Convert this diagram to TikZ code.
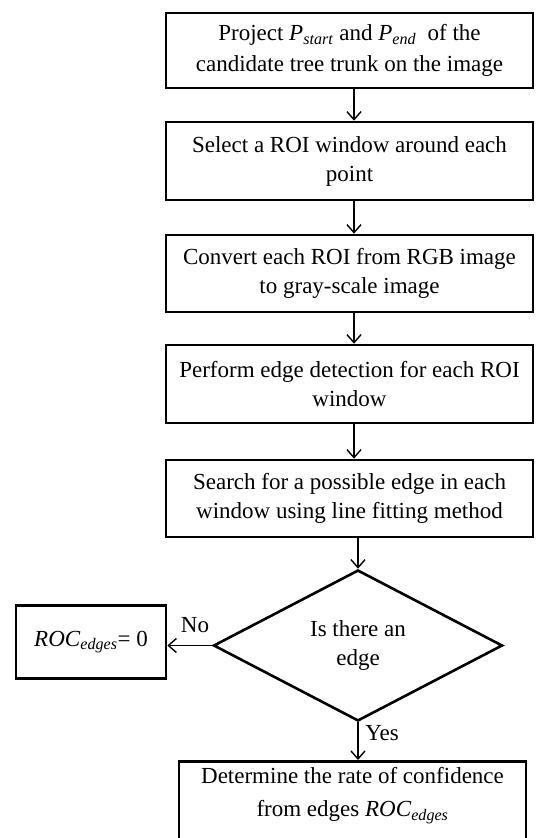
\documentclass[tikz,border=0pt]{standalone}
\usepackage{fontspec}
\setmainfont{Liberation Serif}
\usetikzlibrary{shapes.geometric,arrows.meta,calc}
\begin{document}
\begin{tikzpicture}[x=1pt,y=-1pt,
  txt/.style={font=\fontsize{23}{29}\selectfont},
  box/.style={draw, line width=2.6pt, rectangle, minimum width=367pt, inner sep=0pt, align=center, txt},
  dec/.style={draw, line width=2.6pt, diamond, aspect=1.91, minimum width=289pt, minimum height=151pt, inner sep=0pt, align=center, txt},
  arr/.style={line width=1.4pt, -{Straight Barb[length=8pt,width=14pt,line width=1.4pt]}},
  lbl/.style={txt, inner sep=0pt}]
\useasboundingbox (0,0) rectangle (539,838);
\clip (0,0) rectangle (539,838);
\node[box, minimum height=75pt] (b1) at (349.5,50.5) {Project \textit{P}\textsubscript{\textit{start}} and \textit{P}\textsubscript{\textit{end}}\ \ of the\\[2pt]candidate tree trunk on the image};
\node[box, minimum height=78pt] (b2) at (349.5,161) {Select a ROI window around each\\point};
\node[box, minimum height=77pt] (b3) at (349.5,273.5) {Convert each ROI from RGB image\\to gray-scale image};
\node[box, minimum height=78pt] (b4) at (349.5,384) {Perform edge detection for each ROI\\window};
\node[box, minimum height=77pt] (b5) at (349.5,498.5) {Search for a possible edge in each\\window using line fitting method};
\node[dec] (d) at (358,645.5) {Is there an\\edge};
\node[box, minimum width=150pt, minimum height=73.5pt] (roc) at (91,642) {\textit{ROC}\textsubscript{\textit{edges}}= 0};
\node[box, minimum width=347pt, anchor=north, inner ysep=6pt] (b6) at (352.5,760) {Determine the rate of confidence\\[4pt]from edges \textit{ROC}\textsubscript{\textit{edges}}\\\rule{0pt}{40pt}};
\coordinate (ax) at (354,0);
\draw[arr] (b1.south -| ax) -- (b2.north -| ax);
\draw[arr] (b2.south -| ax) -- (b3.north -| ax);
\draw[arr] (b3.south -| ax) -- (b4.north -| ax);
\draw[arr] (b4.south -| ax) -- (b5.north -| ax);
\draw[arr] (b5.south -| d.north) -- (d.north);
\draw[arr] (d.west) -- (d.west -| roc.east);
\draw[arr] (d.south) -- (d.south |- b6.north);
\node[lbl] (no) at (195,625) {No};
\node[lbl] (yes) at (382,733) {Yes};
\end{tikzpicture}
\end{document}
